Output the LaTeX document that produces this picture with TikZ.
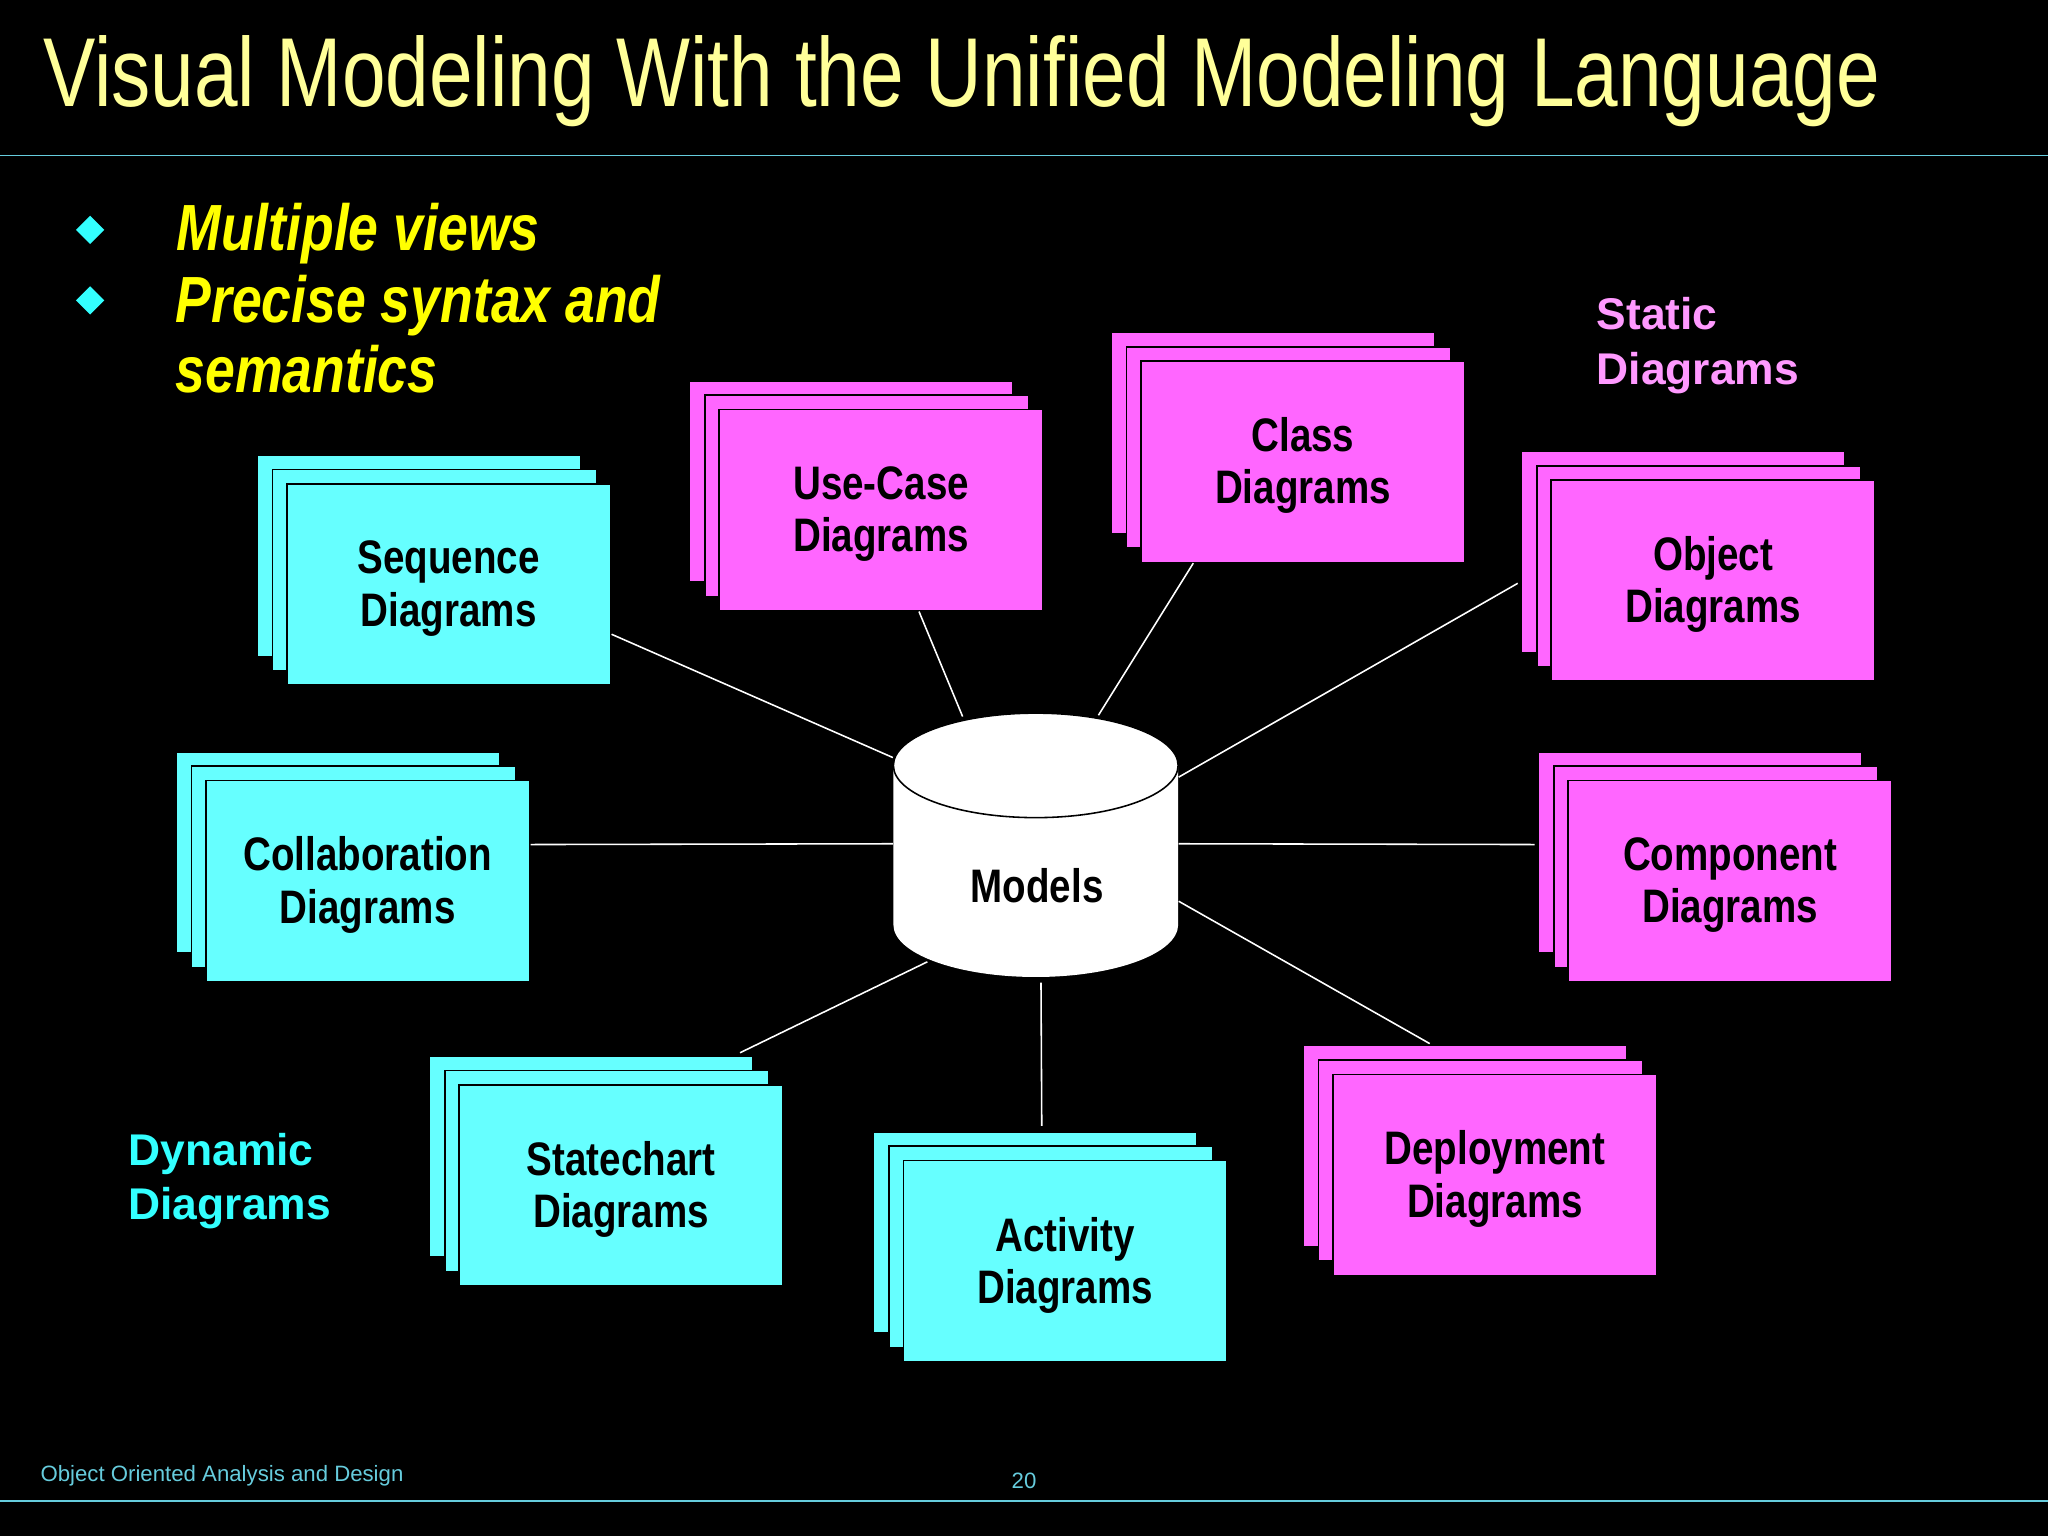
\documentclass[tikz,border=0pt]{standalone}
\usetikzlibrary{shapes.geometric}
\usepackage{fontspec}
\setmainfont{Liberation Sans}
\newfontfamily\narrow{Liberation Sans}[FakeStretch=0.82]
\newfontfamily\tnarrow{Liberation Sans}[FakeStretch=0.8]
\definecolor{cy}{HTML}{66FFFF}
\definecolor{mg}{HTML}{FF66FF}
\definecolor{ttl}{HTML}{FFFF99}
\definecolor{yel}{HTML}{FFFF00}
\definecolor{pk}{HTML}{FF99FF}
\definecolor{dcy}{HTML}{33FFFF}
\definecolor{rule}{HTML}{66CCDD}
\begin{document}
\begin{tikzpicture}[x=0.5pt,y=-0.5pt,
  card/.style={draw=black,line width=0.6pt,minimum width=124pt,minimum height=77pt,inner sep=0pt},
  lbl/.style={font=\narrow\bfseries\fontsize{18}{20}\selectfont,align=center,text=black},
  conn/.style={draw=white,line width=0.6pt}]
\fill[black] (0,0) rectangle (1568,1176);
\useasboundingbox (0,0) rectangle (1568,1176);
\draw[rule,line width=0.7pt] (0,119) -- (1568,119);
\draw[rule,line width=0.7pt] (0,1149) -- (1568,1149);
\node[anchor=west,text=ttl,font=\tnarrow\fontsize{37.5}{42}\selectfont] (title) at (26,62) {Visual Modeling With the Unified Modeling Language};
% bullets
\node[fill=dcy,diamond,inner sep=0pt,minimum size=11pt] (b1) at (69,176) {};
\node[fill=dcy,diamond,inner sep=0pt,minimum size=11pt] (b2) at (69,230) {};
\node[anchor=west,text=yel,font=\narrow\bfseries\itshape\fontsize{25}{27}\selectfont] (t1) at (128,179) {Multiple views};
\node[anchor=north west,text=yel,align=left,font=\narrow\bfseries\itshape\fontsize{25}{27}\selectfont,inner sep=0pt] (t2) at (134,210) {Precise syntax and\\semantics};
\node[anchor=north west,text=pk,align=left,font=\bfseries\fontsize{17}{21}\selectfont,inner sep=0pt] (st) at (1222,227) {Static\\Diagrams};
\node[anchor=north west,text=dcy,align=left,font=\bfseries\fontsize{17}{21}\selectfont,inner sep=0pt] (dy) at (98,867) {Dynamic\\Diagrams};
% stacked cards: back, middle, front
\newcommand{\stk}[5]{%
  \node[card,fill=#4,anchor=north west] at (#2-23,#3-22) {};
  \node[card,fill=#4,anchor=north west] at (#2-11,#3-11) {};
  \node[card,fill=#4,anchor=north west] (#1) at (#2,#3) {};
  \node[lbl] at ([yshift=-1.5pt]#1) {#5};}
\stk{seq}{219}{370}{cy}{Sequence\\Diagrams}
\stk{use}{550}{313}{mg}{Use-Case\\Diagrams}
\stk{cls}{873}{276}{mg}{Class\\Diagrams}
\stk{obj}{1187}{367}{mg}{Object\\Diagrams}
\stk{col}{157}{597}{cy}{Collaboration\\Diagrams}
\stk{cmp}{1200}{597}{mg}{Component\\Diagrams}
\stk{sta}{351}{830}{cy}{Statechart\\Diagrams}
\stk{act}{691}{888}{cy}{Activity\\Diagrams}
\stk{dep}{1020}{822}{mg}{Deployment\\Diagrams}
% cylinder
\node[minimum width=109pt,minimum height=101pt,inner sep=0pt] (models) at (793,647) {};
\fill[white] (684,586) -- (684,708) arc[start angle=180,end angle=360,x radius=109,y radius=-40] -- (902,586) -- cycle;
\draw[black,line width=0.6pt,fill=white] (793,586) ellipse[x radius=109,y radius=40];
\node[lbl] at (794,678) {Models};
% connectors
\draw[conn] ([yshift=-19pt]seq.east) -- ([yshift=33.5pt]models.west);
\draw[conn] ([xshift=14.5pt]use.south) -- ([xshift=-28pt,yshift=-1.5pt]models.north);
\draw[conn] ([xshift=-42pt]cls.south) -- ([xshift=24pt,yshift=-1pt]models.north);
\draw[conn] ([xshift=-12.5pt,yshift=-1pt]obj.west) -- ([yshift=26pt]models.east);
\draw[conn] ([yshift=14pt]col.east) -- ([yshift=0.5pt]models.west);
\draw[conn] ([xshift=-12.5pt,yshift=14pt]cmp.west) -- ([yshift=0.5pt]models.east);
\draw[conn] ([xshift=45.5pt,yshift=12pt]sta.north) -- ([xshift=-41.5pt,yshift=6pt]models.south);
\draw[conn] ([xshift=-9pt,yshift=13pt]act.north) -- ([xshift=2pt,yshift=-2pt]models.south);
\draw[conn] ([xshift=-25pt,yshift=11.5pt]dep.north) -- ([yshift=-21.5pt]models.east);
% footer
\node[anchor=west,text=rule,font=\fontsize{8.5}{10}\selectfont] (ft) at (24,1130) {Object Oriented Analysis and Design};
\node[text=rule,font=\fontsize{8.5}{10}\selectfont] (pg) at (784,1134) {20};
\end{tikzpicture}
\end{document}
